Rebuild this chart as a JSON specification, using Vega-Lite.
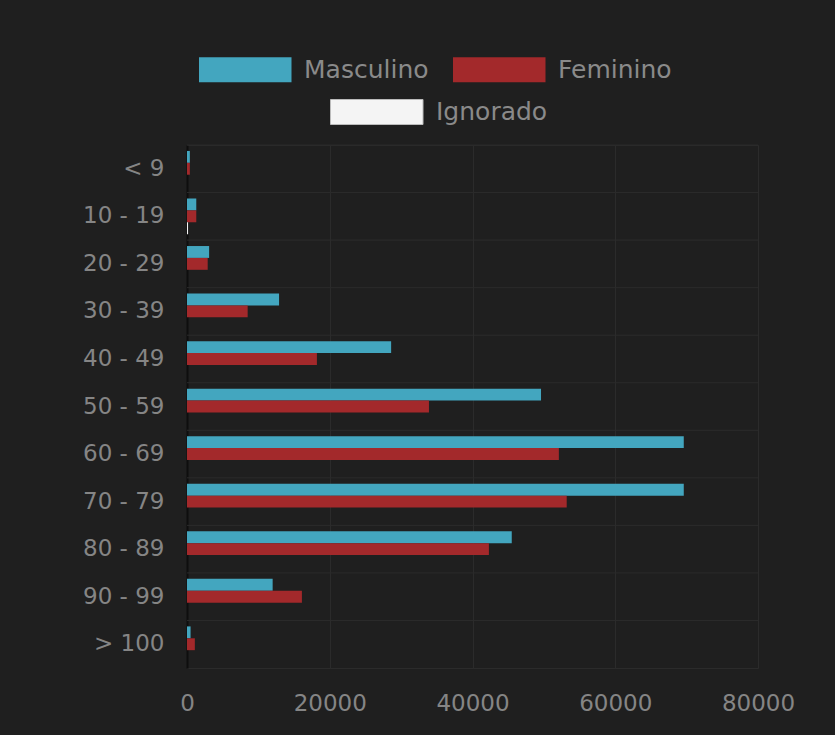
{
  "$schema": "https://vega.github.io/schema/vega-lite/v6.json",
  "width": 571,
  "height": 523,
  "autosize": {"type": "none"},
  "padding": {"left": 187, "top": 145, "right": 77, "bottom": 67},
  "background": "#1f1f1f",
  "data": {
    "values": [
      {"idade": "< 9", "sexo": "Masculino", "valor": 400},
      {"idade": "< 9", "sexo": "Feminino", "valor": 400},
      {"idade": "< 9", "sexo": "Ignorado", "valor": 0},
      {"idade": "10 - 19", "sexo": "Masculino", "valor": 1300},
      {"idade": "10 - 19", "sexo": "Feminino", "valor": 1300},
      {"idade": "10 - 19", "sexo": "Ignorado", "valor": 150},
      {"idade": "20 - 29", "sexo": "Masculino", "valor": 3100},
      {"idade": "20 - 29", "sexo": "Feminino", "valor": 2900},
      {"idade": "20 - 29", "sexo": "Ignorado", "valor": 0},
      {"idade": "30 - 39", "sexo": "Masculino", "valor": 12900},
      {"idade": "30 - 39", "sexo": "Feminino", "valor": 8500},
      {"idade": "30 - 39", "sexo": "Ignorado", "valor": 0},
      {"idade": "40 - 49", "sexo": "Masculino", "valor": 28600},
      {"idade": "40 - 49", "sexo": "Feminino", "valor": 18200},
      {"idade": "40 - 49", "sexo": "Ignorado", "valor": 0},
      {"idade": "50 - 59", "sexo": "Masculino", "valor": 49600},
      {"idade": "50 - 59", "sexo": "Feminino", "valor": 33900},
      {"idade": "50 - 59", "sexo": "Ignorado", "valor": 0},
      {"idade": "60 - 69", "sexo": "Masculino", "valor": 69600},
      {"idade": "60 - 69", "sexo": "Feminino", "valor": 52100},
      {"idade": "60 - 69", "sexo": "Ignorado", "valor": 0},
      {"idade": "70 - 79", "sexo": "Masculino", "valor": 69600},
      {"idade": "70 - 79", "sexo": "Feminino", "valor": 53200},
      {"idade": "70 - 79", "sexo": "Ignorado", "valor": 0},
      {"idade": "80 - 89", "sexo": "Masculino", "valor": 45500},
      {"idade": "80 - 89", "sexo": "Feminino", "valor": 42300},
      {"idade": "80 - 89", "sexo": "Ignorado", "valor": 0},
      {"idade": "90 - 99", "sexo": "Masculino", "valor": 12000},
      {"idade": "90 - 99", "sexo": "Feminino", "valor": 16100},
      {"idade": "90 - 99", "sexo": "Ignorado", "valor": 0},
      {"idade": "> 100", "sexo": "Masculino", "valor": 500},
      {"idade": "> 100", "sexo": "Feminino", "valor": 1100},
      {"idade": "> 100", "sexo": "Ignorado", "valor": 0}
    ]
  },
  "encoding": {
    "y": {
      "field": "idade",
      "type": "nominal",
      "sort": ["< 9", "10 - 19", "20 - 29", "30 - 39", "40 - 49", "50 - 59", "60 - 69", "70 - 79", "80 - 89", "90 - 99", "> 100"],
      "scale": {"paddingInner": 0, "paddingOuter": 0},
      "axis": {
        "title": null,
        "ticks": false,
        "grid": false,
        "domain": true,
        "domainColor": "#0e0e0e",
        "domainWidth": 2,
        "labelFont": "DejaVu Sans",
        "labelFontSize": 23,
        "labelColor": "#858585",
        "labelPadding": 23
      }
    }
  },
  "layer": [
    {
      "transform": [{"filter": "datum.sexo === 'Masculino'"}],
      "mark": {"type": "rule", "color": "#2b2b2b", "strokeWidth": 1},
      "encoding": {
        "y": {
          "field": "idade",
          "type": "nominal",
          "sort": ["< 9", "10 - 19", "20 - 29", "30 - 39", "40 - 49", "50 - 59", "60 - 69", "70 - 79", "80 - 89", "90 - 99", "> 100"],
          "bandPosition": 0
        }
      }
    },
    {
      "transform": [{"filter": "datum.sexo !== 'Ignorado'"}],
      "mark": {"type": "bar"},
      "encoding": {
        "x": {
          "field": "valor",
          "type": "quantitative",
          "scale": {"domain": [0, 80000], "nice": false},
          "axis": {
            "title": null,
            "values": [0, 20000, 40000, 60000, 80000],
            "format": "d",
            "ticks": false,
            "domain": false,
            "grid": true,
            "gridColor": "#2b2b2b",
            "labelFlush": false,
            "labelFont": "DejaVu Sans",
            "labelFontSize": 23,
            "labelColor": "#858585",
            "labelPadding": 24
          }
        },
        "yOffset": {
          "field": "sexo",
          "type": "nominal",
          "scale": {"domain": ["Masculino", "Feminino", "Ignorado"], "paddingInner": 0, "paddingOuter": 0.5}
        },
        "color": {
          "field": "sexo",
          "type": "nominal",
          "scale": {"domain": ["Masculino", "Feminino"], "range": ["#43a6bf", "#a3292b"]},
          "legend": {"title": null, "orient": "none", "legendX": 12, "legendY": -88, "direction": "horizontal", "columnPadding": 24}
        }
      }
    },
    {
      "transform": [{"filter": "datum.sexo === 'Ignorado'"}],
      "mark": {"type": "bar"},
      "encoding": {
        "x": {"field": "valor", "type": "quantitative"},
        "yOffset": {"field": "sexo", "type": "nominal"},
        "fill": {
          "field": "sexo",
          "type": "nominal",
          "scale": {"domain": ["Ignorado"], "range": ["#f4f4f4"]},
          "legend": {"title": null, "orient": "none", "legendX": 143, "legendY": -46, "direction": "horizontal", "symbolStrokeColor": "#bbbbbb", "symbolStrokeWidth": 1}
        }
      }
    }
  ],
  "config": {
    "view": {"stroke": "#2b2b2b"},
    "legend": {
      "padding": 0,
      "symbolType": "M-1,-1H6.4V1H-1Z",
      "symbolSize": 625,
      "symbolOpacity": 1,
      "symbolStrokeWidth": 0,
      "labelOffset": 80,
      "labelFont": "DejaVu Sans",
      "labelFontSize": 25,
      "labelColor": "#8a8a8a",
      "labelLimit": 300
    }
  }
}
